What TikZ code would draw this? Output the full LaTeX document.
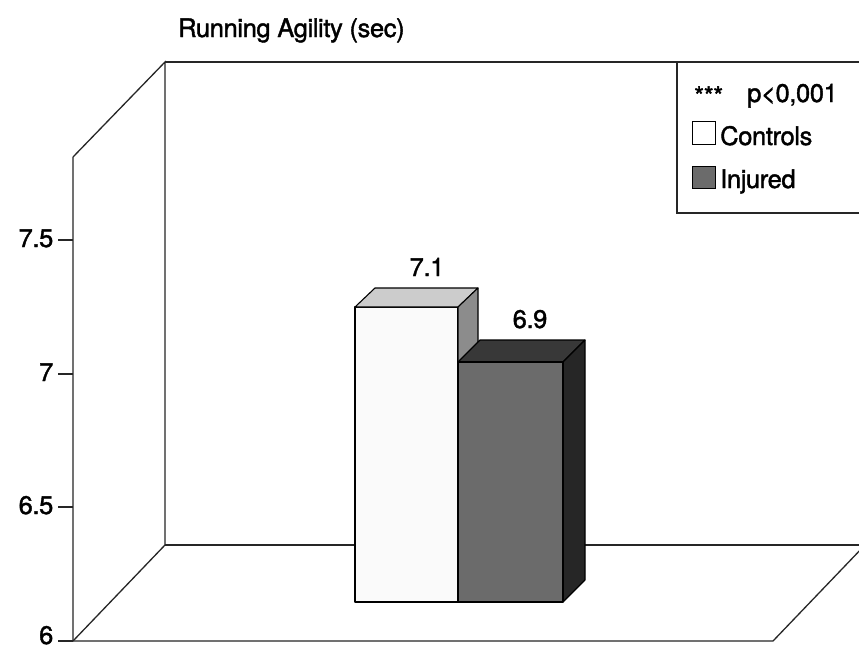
\documentclass[tikz,border=0pt]{standalone}
\usepackage{fontspec}
\setmainfont{TeX Gyre Heros}
\newfontfamily\plotfont[FakeBold=1.5, LetterSpace=-1.5]{TeX Gyre Heros}
\usetikzlibrary{calc}
\definecolor{ctrlfront}{gray}{0.98}
\definecolor{ctrltop}{gray}{0.80}
\definecolor{ctrlside}{gray}{0.55}
\definecolor{injfront}{gray}{0.42}
\definecolor{injtop}{gray}{0.22}
\definecolor{injside}{gray}{0.15}

\begin{document}
\begin{tikzpicture}[
  x=1pt, y=-1pt,
  frame/.style={line width=1.3pt, black!85},
  tickmark/.style={line width=1.2pt, black!85},
  face/.style={draw=black, line width=1.1pt, line join=round},
  lbl/.style={font=\plotfont\fontsize{25.5}{30}\selectfont, inner sep=0pt},
  legbox/.style={draw=black, line width=0.9pt}
]
\clip (0,0) rectangle (859,649);
\fill[white] (0,0) rectangle (859,649);

% walls and floor
\coordinate (fbot) at (73,641);
\coordinate (ftop) at (73,157);
\coordinate (bbot) at (165,545);
\coordinate (btop) at (165,62);
\coordinate (fright) at (773,641);
\draw[frame] (ftop) -- (fbot) -- (fright) -- ++(92,-96);
\draw[frame] (ftop) -- (btop) -- (bbot) -- (fbot);
\draw[frame] (btop) -- (870,62);
\draw[frame] (bbot) -- (870,545);

% value axis
\foreach \v/\y [count=\i] in {6.5/507, 7/374, 7.5/240} {
  \draw[tickmark] (58,\y) -- (73,\y);
  \node[lbl, anchor=base east] (tick\i) at (53.5,\y+7) {\v};
}
\draw[tickmark] (58,641) -- (73,641);
\node[lbl, anchor=base east] (tick0) at (53.5,644) {6};

\node[lbl, anchor=base west] (title) at (178,37) {Running Agility (sec)};

% controls bar
\fill[ctrlfront, face] (355,307) rectangle (458,602);
\fill[ctrltop, face] (355,307) -- ++(20,-19) -- ++(103,0) -- (458,307) -- cycle;
\fill[ctrlside, face] (458,307) -- ++(20,-19) -- ++(0,295) -- (458,602) -- cycle;
\node[lbl, anchor=base] (valctrl) at (427,276) {7.1};

% injured bar
\fill[injtop, face] (458,362) -- ++(22,-22) -- ++(105,0) -- (563,362) -- cycle;
\fill[injside, face] (563,362) -- ++(22,-22) -- ++(0,240) -- (563,602) -- cycle;
\fill[injfront, face] (458,362) rectangle (563,602);
\node[lbl, anchor=base] (valinj) at (530,328) {6.9};

% legend
\draw[frame] (677,62) -- (677,213) -- (870,213);
\node[lbl, anchor=base west] (stars) at (694,105) {***};
\node[lbl, anchor=base west] (pval) at (747,102) {p<0,001};
\draw[legbox, fill=white] (692,121) rectangle (715,144);
\node[lbl, anchor=base west] (legctrl) at (720,145) {Controls};
\draw[legbox, fill=injfront] (692,166) rectangle (715,188);
\node[lbl, anchor=base west] (leginj) at (720,188) {Injured};
\end{tikzpicture}
\end{document}
